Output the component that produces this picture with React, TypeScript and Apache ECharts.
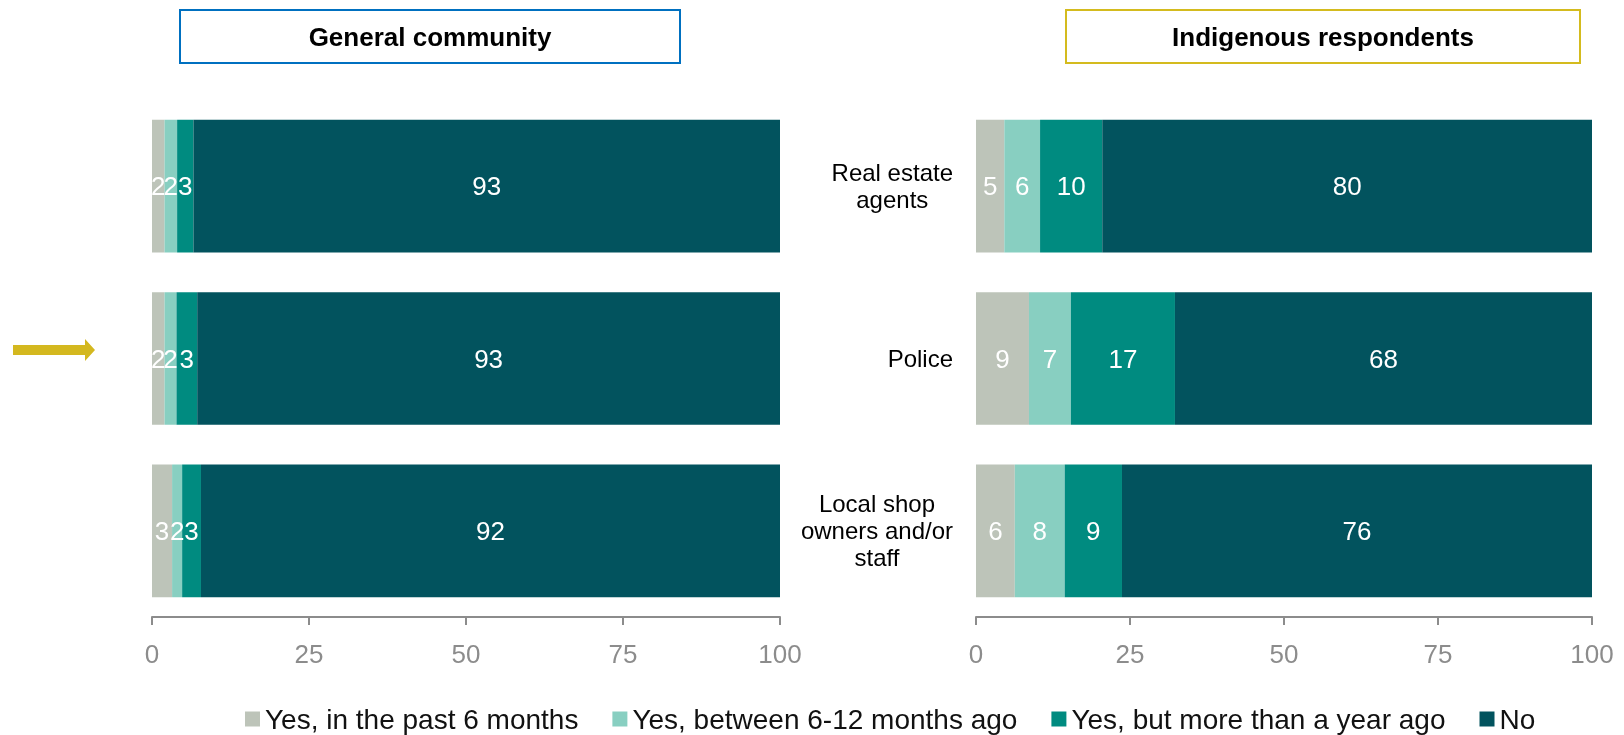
import React, { useEffect, useRef } from "react";
import * as echarts from "echarts";

const categories = ["Real estate\nagents", "Police", "Local shop\nowners and/or\nstaff"];
const seriesNames = [
  "Yes, in the past 6 months",
  "Yes, between 6-12 months ago",
  "Yes, but more than a year ago",
  "No",
];
const colors = ["#BDC4B9", "#88CFC1", "#008B80", "#02535E"];

// General community
const generalPast6 = [2.0, 2.0, 3.2];
const general6to12 = [2.0, 1.9, 1.6];
const generalOverYear = [2.6, 3.3, 3.0];
const generalNo = [93.4, 92.8, 92.2];

// Indigenous respondents
const indigPast6 = [4.6, 8.6, 6.3];
const indig6to12 = [5.8, 6.8, 8.1];
const indigOverYear = [10.1, 16.9, 9.3];
const indigNo = [79.5, 67.7, 76.3];

const xTicks = { min: 0, max: 100, interval: 25 };
const panelTitles = ["General community", "Indigenous respondents"];

const FONT = "'Liberation Sans', Arial, sans-serif";

export default function App() {
  const ref = useRef<HTMLDivElement>(null);

  useEffect(() => {
    if (!ref.current) return;
    const chart = echarts.init(ref.current, undefined, { renderer: "svg" });

    const panels = [
      [generalPast6, general6to12, generalOverYear, generalNo],
      [indigPast6, indig6to12, indigOverYear, indigNo],
    ];

    const series: any[] = [];
    panels.forEach((panel, gi) => {
      panel.forEach((vals, si) => {
        series.push({
          name: seriesNames[si],
          type: "bar",
          stack: "s" + gi,
          xAxisIndex: gi,
          yAxisIndex: gi,
          barWidth: "77%",
          data: vals,
          itemStyle: { color: colors[si] },
          label: {
            show: true,
            position: "inside",
            color: "#FFFFFF",
            fontSize: 26,
            fontFamily: FONT,
            formatter: (p: any) => String(Math.round(p.value)),
          },
        });
      });
    });

    const xAxisCommon = {
      type: "value",
      min: xTicks.min,
      max: xTicks.max,
      interval: xTicks.interval,
      axisLine: { show: true, lineStyle: { color: "#8C8C8C", width: 2 } },
      axisTick: { show: true, length: 8, lineStyle: { color: "#8C8C8C", width: 2 } },
      axisLabel: { color: "#8C8C8C", fontSize: 26, fontFamily: FONT, margin: 24 },
      splitLine: { show: false },
    };

    chart.setOption({
      animation: false,
      textStyle: { fontFamily: FONT },
      grid: [
        { left: 152, right: 844, top: 100, bottom: 118 },
        { left: 976, right: 32, top: 100, bottom: 118 },
      ],
      xAxis: [
        { ...xAxisCommon, gridIndex: 0 },
        { ...xAxisCommon, gridIndex: 1 },
      ],
      yAxis: [
        {
          type: "category",
          gridIndex: 0,
          data: categories,
          inverse: true,
          axisLine: { show: false },
          axisTick: { show: false },
          axisLabel: { show: false },
        },
        {
          type: "category",
          gridIndex: 1,
          data: categories,
          inverse: true,
          axisLine: { show: false },
          axisTick: { show: false },
          axisLabel: {
            show: true,
            align: "right",
            margin: 23,
            formatter: (v: string) =>
              v
                .split("\n")
                .map((l) => "{c|" + l + "}")
                .join("\n"),
            rich: {
              c: {
                align: "center",
                fontSize: 24,
                lineHeight: 27,
                color: "#000000",
                fontFamily: FONT,
              },
            },
          },
        },
      ],
      legend: {
        data: seriesNames,
        left: 245,
        top: 705,
        icon: "rect",
        itemWidth: 15,
        itemHeight: 15,
        itemGap: 34,
        padding: 0,
        textStyle: { fontSize: 28, color: "#111111", fontFamily: FONT },
      },
      graphic: [
        {
          type: "rect",
          shape: { x: 180, y: 10, width: 500, height: 53 },
          style: { fill: "#FFFFFF", stroke: "#0070C0", lineWidth: 2 },
        },
        {
          type: "text",
          x: 430,
          y: 37,
          style: {
            text: panelTitles[0],
            fill: "#000000",
            font: "bold 26px " + FONT,
            textAlign: "center",
            textVerticalAlign: "middle",
          },
        },
        {
          type: "rect",
          shape: { x: 1066, y: 10, width: 514, height: 53 },
          style: { fill: "#FFFFFF", stroke: "#D4BB1E", lineWidth: 2 },
        },
        {
          type: "text",
          x: 1323,
          y: 37,
          style: {
            text: panelTitles[1],
            fill: "#000000",
            font: "bold 26px " + FONT,
            textAlign: "center",
            textVerticalAlign: "middle",
          },
        },
        {
          type: "polygon",
          shape: {
            points: [
              [13, 345],
              [85, 345],
              [85, 339],
              [95, 350],
              [85, 361],
              [85, 355],
              [13, 355],
            ],
          },
          style: { fill: "#D4B81F" },
        },
      ],
      series,
    });

    return () => chart.dispose();
  }, []);

  return (
    <div
      ref={ref}
      style={{ position: "fixed", left: 0, top: 0, width: 1624, height: 735 }}
    />
  );
}
